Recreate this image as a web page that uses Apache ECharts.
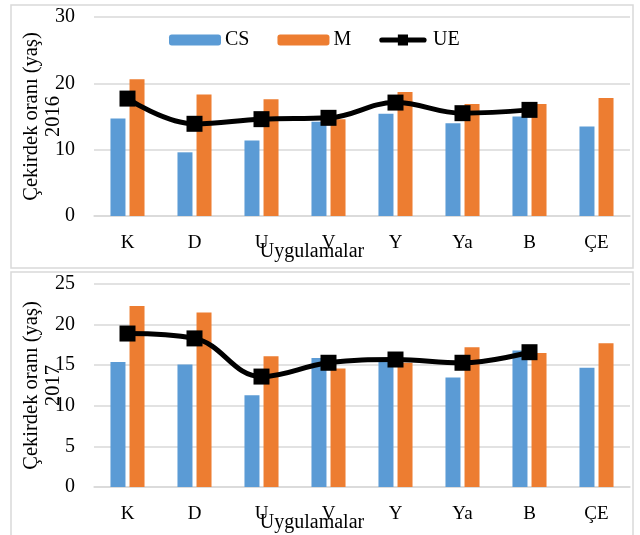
<!DOCTYPE html>
<html>
<head>
<meta charset="utf-8">
<script src="https://cdn.jsdelivr.net/npm/echarts@6/dist/echarts.min.js"></script>
<style>
  html, body { margin: 0; padding: 0; background: #fff; }
  #chart { width: 640px; height: 535px; }
</style>
</head>
<body>
<div id="chart"></div>
<script>
// Core ratio (years) per application, two seasons
const categories = ['K', 'D', 'U', 'V', 'Y', 'Ya', 'B', 'ÇE'];

const cs2016 = [14.7, 9.6, 11.4, 14.2, 15.4, 14.0, 15.0, 13.5];
const m2016  = [20.6, 18.3, 17.6, 14.6, 18.7, 16.9, 16.9, 17.8];
const ue2016 = [17.7, 13.9, 14.6, 14.8, 17.1, 15.5, 16.0, null];

const cs2017 = [15.4, 15.1, 11.3, 15.9, 15.4, 13.5, 16.8, 14.7];
const m2017  = [22.3, 21.5, 16.1, 14.6, 15.3, 17.2, 16.5, 17.7];
const ue2017 = [18.9, 18.3, 13.6, 15.3, 15.7, 15.3, 16.6, null];

const yTicks2016 = { min: 0, max: 30, interval: 10 };
const yTicks2017 = { min: 0, max: 25, interval: 5 };

const FONT = '"Liberation Serif", "Times New Roman", serif';
const BLUE = '#5b9bd5';
const ORANGE = '#ed7d31';
const GRID = '#d9d9d9';

// Legend glyph for the line series: thick rounded stroke with a square marker
const LINE_ICON = 'path://M3,3.5 L53,3.5 A3,3 0 0 1 53,9.5 L3,9.5 A3,3 0 0 1 3,3.5 Z M22,0 L34,0 L34,13 L22,13 Z';

function xAxisFor(gridIndex) {
  return {
    type: 'category',
    gridIndex: gridIndex,
    data: categories,
    axisLine: { show: true, lineStyle: { color: GRID, width: 1.5 } },
    axisTick: { show: false },
    axisLabel: { color: '#000', fontFamily: FONT, fontSize: 19, margin: 18 },
    name: 'Uygulamalar',
    nameLocation: 'middle',
    nameGap: 26,
    nameMoveOverlap: false,
    nameTextStyle: { color: '#000', fontFamily: FONT, fontSize: 20, padding: [0, 100, 0, 0] }
  };
}

function yAxisFor(gridIndex, ticks, year) {
  return {
    type: 'value',
    gridIndex: gridIndex,
    min: ticks.min,
    max: ticks.max,
    interval: ticks.interval,
    axisLine: { show: false },
    axisTick: { show: false },
    splitLine: { lineStyle: { color: GRID, width: 1.5 } },
    axisLabel: { color: '#000', fontFamily: FONT, fontSize: 20, margin: 19 },
    name: 'Çekirdek oranı (yaş)\n' + year,
    nameLocation: 'middle',
    nameRotate: 90,
    nameGap: 29,
    nameMoveOverlap: false,
    nameTextStyle: { color: '#000', fontFamily: FONT, fontSize: 20.5, lineHeight: 22 }
  };
}

function seriesFor(idx, cs, m, ue) {
  return [
    { name: 'CS', type: 'bar', xAxisIndex: idx, yAxisIndex: idx, data: cs,
      barWidth: 15, barGap: '27%', itemStyle: { color: BLUE } },
    { name: 'M', type: 'bar', xAxisIndex: idx, yAxisIndex: idx, data: m,
      barWidth: 15, itemStyle: { color: ORANGE } },
    { name: 'UE', type: 'line', xAxisIndex: idx, yAxisIndex: idx, data: ue,
      smooth: 0.4, symbol: 'rect', symbolSize: 16, z: 5,
      lineStyle: { color: '#000', width: 5 }, itemStyle: { color: '#000' } }
  ];
}

const chart = echarts.init(document.getElementById('chart'), null, { renderer: 'canvas' });

chart.setOption({
  backgroundColor: '#fff',
  animation: false,
  graphic: [
    { type: 'rect', shape: { x: 11, y: 5, width: 622, height: 263 },
      style: { fill: 'none', stroke: GRID, lineWidth: 1.5 }, z: -1 },
    { type: 'rect', shape: { x: 11, y: 272, width: 622, height: 270 },
      style: { fill: 'none', stroke: GRID, lineWidth: 1.5 }, z: -1 }
  ],
  legend: {
    data: [
      { name: 'CS' },
      { name: 'M' },
      { name: 'UE', icon: LINE_ICON, itemStyle: { color: '#000' } }
    ],
    left: 164,
    top: 25,
    itemWidth: 52,
    itemHeight: 11,
    itemGap: 28,
    textStyle: { color: '#000', fontFamily: FONT, fontSize: 20, padding: [0, 0, 0, -1] }
  },
  grid: [
    { left: 94, right: 10, top: 17, height: 199, outerBoundsMode: 'none' },
    { left: 94, right: 10, top: 284, height: 203, outerBoundsMode: 'none' }
  ],
  xAxis: [xAxisFor(0), xAxisFor(1)],
  yAxis: [yAxisFor(0, yTicks2016, '2016'), yAxisFor(1, yTicks2017, '2017')],
  series: [
    ...seriesFor(0, cs2016, m2016, ue2016),
    ...seriesFor(1, cs2017, m2017, ue2017)
  ]
});
</script>
</body>
</html>
